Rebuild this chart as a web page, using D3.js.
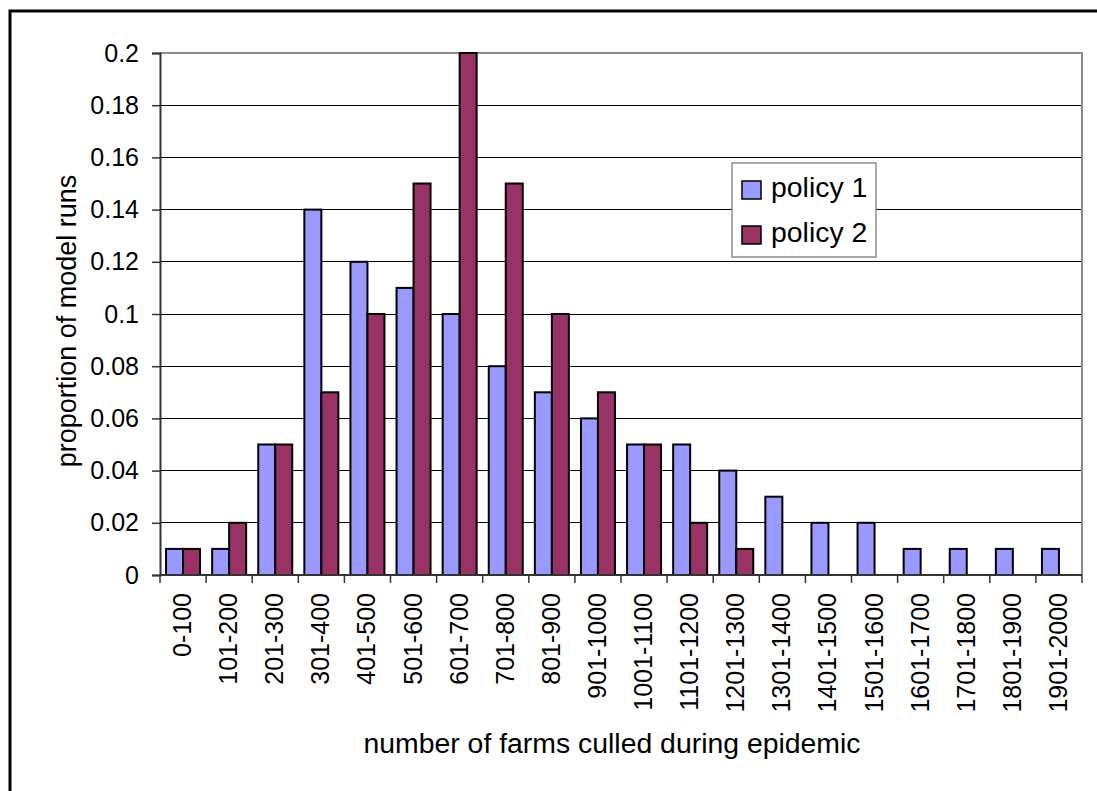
<!DOCTYPE html>
<html>
<head>
<meta charset="utf-8">
<script src="https://cdn.jsdelivr.net/npm/d3@7/dist/d3.min.js"></script>
<style>
  html, body { margin: 0; padding: 0; background: #fff; }
  svg { display: block; font-family: "Liberation Sans", Arial, sans-serif; }
</style>
</head>
<body>
<svg id="chart" width="1097" height="791"></svg>
<script>
// Histogram of epidemic size (farms culled) under two control policies
const categories = ["0-100","101-200","201-300","301-400","401-500","501-600","601-700","701-800","801-900","901-1000",
  "1001-1100","1101-1200","1201-1300","1301-1400","1401-1500","1501-1600","1601-1700","1701-1800","1801-1900","1901-2000"];
const policy1 = [0.01,0.01,0.05,0.14,0.12,0.11,0.10,0.08,0.07,0.06,0.05,0.05,0.04,0.03,0.02,0.02,0.01,0.01,0.01,0.01];
const policy2 = [0.01,0.02,0.05,0.07,0.10,0.15,0.20,0.15,0.10,0.07,0.05,0.02,0.01,0,0,0,0,0,0,0];
const seriesNames = ["policy 1", "policy 2"];
const yTicks = [0,0.02,0.04,0.06,0.08,0.1,0.12,0.14,0.16,0.18,0.2];

const colors = ["#9999FF", "#993366"];
const svg = d3.select("#chart");

// outer frame
svg.append("rect").attr("x", 10).attr("y", 11).attr("width", 1200).attr("height", 900)
  .attr("fill", "none").attr("stroke", "#000").attr("stroke-width", 3);

const plot = { left: 160, right: 1082, top: 53, bottom: 575 };

const x = d3.scaleBand().domain(categories).range([plot.left, plot.right]).padding(0);
const xs = d3.scaleBand().domain(seriesNames).range([0, x.bandwidth()]).paddingInner(0).paddingOuter(0.356);
const y = d3.scaleLinear().domain([0, 0.2]).range([plot.bottom, plot.top]);

// horizontal gridlines
svg.append("g").selectAll("line").data(yTicks.filter(t => t > 0 && t < 0.2)).join("line")
  .attr("x1", plot.left).attr("x2", plot.right)
  .attr("y1", d => y(d)).attr("y2", d => y(d))
  .attr("stroke", "#000").attr("stroke-width", 1).attr("shape-rendering", "crispEdges");

// plot area border (top and right)
svg.append("path")
  .attr("d", `M${plot.left},${y(0.2)}H${plot.right}V${plot.bottom}`)
  .attr("fill", "none").attr("stroke", "#8c8c8c").attr("stroke-width", 2);

// bars
const data = categories.map((c, i) => ({ c, vals: [policy1[i], policy2[i]] }));
const groups = svg.append("g").selectAll("g").data(data).join("g")
  .attr("transform", d => `translate(${x(d.c)},0)`);
groups.selectAll("rect").data(d => d.vals.map((v, j) => ({ v, s: seriesNames[j], j })).filter(e => e.v > 0))
  .join("rect")
  .attr("x", e => xs(e.s))
  .attr("width", xs.bandwidth())
  .attr("y", e => y(e.v))
  .attr("height", e => y(0) - y(e.v))
  .attr("fill", e => colors[e.j])
  .attr("stroke", "#000").attr("stroke-width", 2);

// y axis
const yAxis = d3.axisLeft(y).tickValues(yTicks).tickSize(8).tickPadding(13)
  .tickFormat(d => d === 0 ? "0" : String(+d.toFixed(2)));
const gy = svg.append("g").attr("transform", `translate(${plot.left},0)`).call(yAxis);
gy.select(".domain").attr("stroke", "#333").attr("stroke-width", 2);
gy.selectAll(".tick line").attr("stroke", "#333").attr("stroke-width", 1.5);
gy.selectAll("text").attr("font-size", 25).attr("font-family", "Liberation Sans, Arial, sans-serif").attr("fill", "#000");

// x axis: ticks at category boundaries
const gx = svg.append("g").attr("transform", `translate(0,${plot.bottom})`);
gx.append("line").attr("x1", plot.left).attr("x2", plot.right).attr("stroke", "#333").attr("stroke-width", 2);
const bounds = categories.map(c => x(c)).concat([plot.right]);
gx.selectAll("line.tk").data(bounds).join("line").attr("class", "tk")
  .attr("x1", d => d).attr("x2", d => d).attr("y1", 0).attr("y2", 8)
  .attr("stroke", "#333").attr("stroke-width", 1.5);
gx.selectAll("text").data(categories).join("text")
  .attr("transform", d => `translate(${x(d) + x.bandwidth() / 2 + 8},18) rotate(-90)`)
  .attr("text-anchor", "end")
  .attr("font-size", 25).attr("fill", "#000")
  .text(d => d);

// axis titles
svg.append("text").attr("x", 612).attr("y", 753).attr("text-anchor", "middle")
  .attr("font-size", 28.4).attr("fill", "#000").text("number of farms culled during epidemic");
svg.append("text").attr("transform", "translate(76,321) rotate(-90)").attr("text-anchor", "middle")
  .attr("font-size", 27).attr("fill", "#000").text("proportion of model runs");

// legend
const lg = svg.append("g").attr("transform", "translate(732,163)");
lg.append("rect").attr("width", 144).attr("height", 94).attr("fill", "#fff").attr("stroke", "#8c8c8c").attr("stroke-width", 1.5);
seriesNames.forEach((s, i) => {
  const row = lg.append("g").attr("transform", `translate(10,${27 + i * 45})`);
  row.append("rect").attr("x", 0).attr("y", -9).attr("width", 19).attr("height", 18)
    .attr("fill", colors[i]).attr("stroke", "#000").attr("stroke-width", 1.5);
  row.append("text").attr("x", 29).attr("y", 7).attr("font-size", 28.4).attr("fill", "#000").text(s);
});
</script>
</body>
</html>
